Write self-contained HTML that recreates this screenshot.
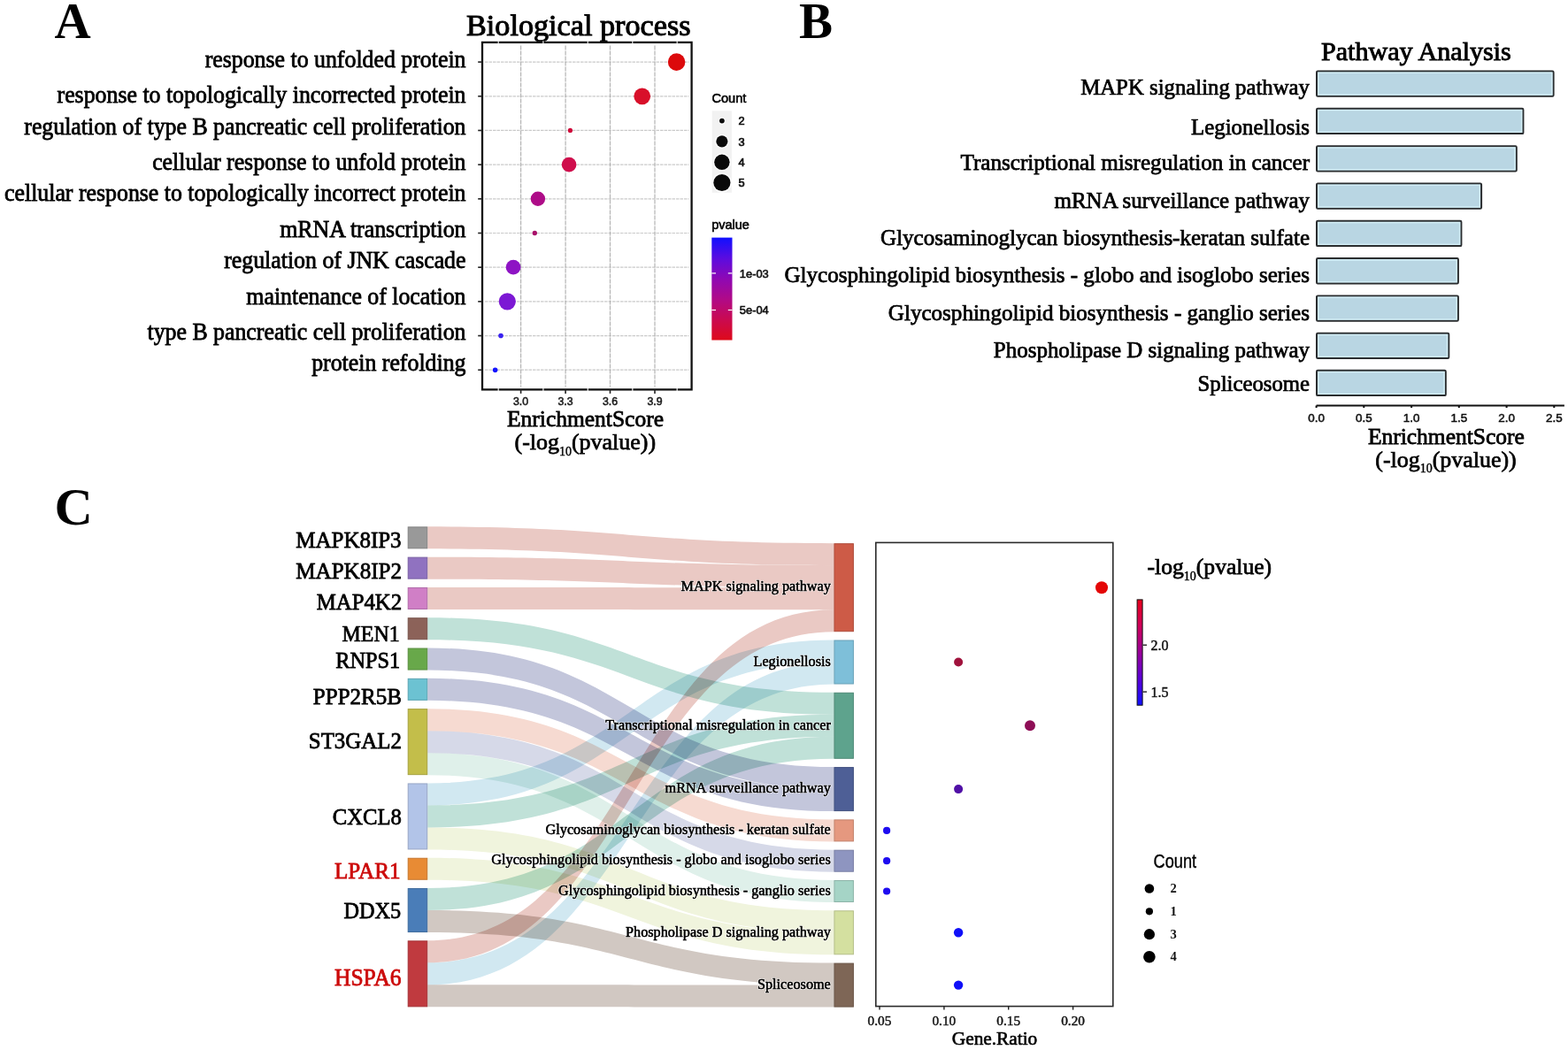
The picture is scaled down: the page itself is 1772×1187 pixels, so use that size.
<!DOCTYPE html>
<html><head><meta charset="utf-8"><title>Figure</title>
<style>html,body{margin:0;padding:0;background:#fff;} svg{display:block;} text{white-space:pre;} .fl path{mix-blend-mode:multiply;}</style>
</head><body>
<svg width="1772" height="1187" viewBox="0 0 1772 1187">
<rect width="1772" height="1187" fill="#fff"/>
<text x="61.50" y="43.00" font-size="57" text-anchor="start" font-family="'Liberation Serif', 'Times New Roman', serif" fill="#000" font-weight="bold" >A</text>
<text x="903.00" y="43.30" font-size="57" text-anchor="start" font-family="'Liberation Serif', 'Times New Roman', serif" fill="#000" font-weight="bold" >B</text>
<text x="61.60" y="592.80" font-size="60" text-anchor="start" font-family="'Liberation Serif', 'Times New Roman', serif" fill="#000" font-weight="bold" >C</text>
<text x="527.00" y="40.00" font-size="34.2" text-anchor="start" font-family="'Liberation Serif', 'Times New Roman', serif" fill="#000" font-weight="normal" stroke="#000" stroke-width="1.03" >Biological process</text>
<g stroke="#cacaca" stroke-width="1.2" stroke-dasharray="3.5 1"><line x1="548.0" y1="70.10" x2="778.6" y2="70.10"/><line x1="548.0" y1="108.78" x2="778.6" y2="108.78"/><line x1="548.0" y1="147.46" x2="778.6" y2="147.46"/><line x1="548.0" y1="186.14" x2="778.6" y2="186.14"/><line x1="548.0" y1="224.82" x2="778.6" y2="224.82"/><line x1="548.0" y1="263.50" x2="778.6" y2="263.50"/><line x1="548.0" y1="302.18" x2="778.6" y2="302.18"/><line x1="548.0" y1="340.86" x2="778.6" y2="340.86"/><line x1="548.0" y1="379.54" x2="778.6" y2="379.54"/><line x1="548.0" y1="418.22" x2="778.6" y2="418.22"/></g>
<g stroke="#b4b4b4" stroke-width="1.2" stroke-dasharray="5 1"><line x1="588.6" y1="51.4" x2="588.6" y2="437.4"/><line x1="639.1" y1="51.4" x2="639.1" y2="437.4"/><line x1="689.5" y1="51.4" x2="689.5" y2="437.4"/><line x1="740.0" y1="51.4" x2="740.0" y2="437.4"/></g>
<circle cx="764.6" cy="70.10" r="9.8" fill="#DC0A0C"/>
<circle cx="725.7" cy="108.78" r="9.4" fill="#D8102A"/>
<circle cx="644.4" cy="147.46" r="2.6" fill="#CF0A3A"/>
<circle cx="643.1" cy="186.14" r="8.3" fill="#CF0E4C"/>
<circle cx="607.9" cy="224.82" r="8.2" fill="#AE0C88"/>
<circle cx="604.3" cy="263.50" r="2.7" fill="#A8126A"/>
<circle cx="580.1" cy="302.18" r="8.4" fill="#8E14C4"/>
<circle cx="573.3" cy="340.86" r="9.6" fill="#7C18D4"/>
<circle cx="566.0" cy="379.54" r="2.8" fill="#3A22F0"/>
<circle cx="559.6" cy="418.22" r="2.8" fill="#1414FF"/>
<rect x="545.0" y="47.9" width="236.6" height="392.5" fill="none" stroke="#111" stroke-width="2.3"/>
<g stroke="#fff" stroke-width="1.3" stroke-opacity="0.85"><line x1="563.2" y1="46.3" x2="563.2" y2="49.5"/><line x1="563.2" y1="438.8" x2="563.2" y2="442.0"/><line x1="613.9" y1="46.3" x2="613.9" y2="49.5"/><line x1="613.9" y1="438.8" x2="613.9" y2="442.0"/><line x1="664.3" y1="46.3" x2="664.3" y2="49.5"/><line x1="664.3" y1="438.8" x2="664.3" y2="442.0"/><line x1="714.8" y1="46.3" x2="714.8" y2="49.5"/><line x1="714.8" y1="438.8" x2="714.8" y2="442.0"/><line x1="765.2" y1="46.3" x2="765.2" y2="49.5"/><line x1="765.2" y1="438.8" x2="765.2" y2="442.0"/></g>
<text transform="translate(526.50,76.30) scale(1,1.025)" font-size="25.85" text-anchor="end" font-family="'Liberation Serif', 'Times New Roman', serif" fill="#000" font-weight="normal" stroke="#000" stroke-width="0.78" >response to unfolded protein</text>
<text transform="translate(526.50,116.30) scale(1,1.025)" font-size="25.85" text-anchor="end" font-family="'Liberation Serif', 'Times New Roman', serif" fill="#000" font-weight="normal" stroke="#000" stroke-width="0.78" >response to topologically incorrected protein</text>
<text transform="translate(526.50,151.50) scale(1,1.025)" font-size="25.85" text-anchor="end" font-family="'Liberation Serif', 'Times New Roman', serif" fill="#000" font-weight="normal" stroke="#000" stroke-width="0.78" >regulation of type B pancreatic cell proliferation</text>
<text transform="translate(526.50,192.00) scale(1,1.025)" font-size="25.85" text-anchor="end" font-family="'Liberation Serif', 'Times New Roman', serif" fill="#000" font-weight="normal" stroke="#000" stroke-width="0.78" >cellular response to unfold protein</text>
<text transform="translate(526.50,227.20) scale(1,1.025)" font-size="25.85" text-anchor="end" font-family="'Liberation Serif', 'Times New Roman', serif" fill="#000" font-weight="normal" stroke="#000" stroke-width="0.78" >cellular response to topologically incorrect protein</text>
<text transform="translate(526.50,268.40) scale(1,1.025)" font-size="25.85" text-anchor="end" font-family="'Liberation Serif', 'Times New Roman', serif" fill="#000" font-weight="normal" stroke="#000" stroke-width="0.78" >mRNA transcription</text>
<text transform="translate(526.50,303.10) scale(1,1.025)" font-size="25.85" text-anchor="end" font-family="'Liberation Serif', 'Times New Roman', serif" fill="#000" font-weight="normal" stroke="#000" stroke-width="0.78" >regulation of JNK cascade</text>
<text transform="translate(526.50,343.60) scale(1,1.025)" font-size="25.85" text-anchor="end" font-family="'Liberation Serif', 'Times New Roman', serif" fill="#000" font-weight="normal" stroke="#000" stroke-width="0.78" >maintenance of location</text>
<text transform="translate(526.50,383.60) scale(1,1.025)" font-size="25.85" text-anchor="end" font-family="'Liberation Serif', 'Times New Roman', serif" fill="#000" font-weight="normal" stroke="#000" stroke-width="0.78" >type B pancreatic cell proliferation</text>
<text transform="translate(526.50,418.80) scale(1,1.025)" font-size="25.85" text-anchor="end" font-family="'Liberation Serif', 'Times New Roman', serif" fill="#000" font-weight="normal" stroke="#000" stroke-width="0.78" >protein refolding</text>
<g stroke="#222" stroke-width="1.6"><line x1="540.2" y1="70.10" x2="545.0" y2="70.10"/><line x1="540.2" y1="108.78" x2="545.0" y2="108.78"/><line x1="540.2" y1="147.46" x2="545.0" y2="147.46"/><line x1="540.2" y1="186.14" x2="545.0" y2="186.14"/><line x1="540.2" y1="224.82" x2="545.0" y2="224.82"/><line x1="540.2" y1="263.50" x2="545.0" y2="263.50"/><line x1="540.2" y1="302.18" x2="545.0" y2="302.18"/><line x1="540.2" y1="340.86" x2="545.0" y2="340.86"/><line x1="540.2" y1="379.54" x2="545.0" y2="379.54"/><line x1="540.2" y1="418.22" x2="545.0" y2="418.22"/><line x1="588.6" y1="440.4" x2="588.6" y2="444.9"/><line x1="639.1" y1="440.4" x2="639.1" y2="444.9"/><line x1="689.5" y1="440.4" x2="689.5" y2="444.9"/><line x1="740.0" y1="440.4" x2="740.0" y2="444.9"/></g>
<text x="588.60" y="457.60" font-size="12.3" text-anchor="middle" font-family="'Liberation Sans', Arial, sans-serif" fill="#1a1a1a" font-weight="normal" stroke="#1a1a1a" stroke-width="0.55" >3.0</text>
<text x="639.10" y="457.60" font-size="12.3" text-anchor="middle" font-family="'Liberation Sans', Arial, sans-serif" fill="#1a1a1a" font-weight="normal" stroke="#1a1a1a" stroke-width="0.55" >3.3</text>
<text x="689.50" y="457.60" font-size="12.3" text-anchor="middle" font-family="'Liberation Sans', Arial, sans-serif" fill="#1a1a1a" font-weight="normal" stroke="#1a1a1a" stroke-width="0.55" >3.6</text>
<text x="740.00" y="457.60" font-size="12.3" text-anchor="middle" font-family="'Liberation Sans', Arial, sans-serif" fill="#1a1a1a" font-weight="normal" stroke="#1a1a1a" stroke-width="0.55" >3.9</text>
<text x="661.50" y="482.40" font-size="25.5" text-anchor="middle" font-family="'Liberation Serif', 'Times New Roman', serif" fill="#000" font-weight="normal" stroke="#000" stroke-width="0.77" >EnrichmentScore</text>
<text x="661.3" y="508.3" font-size="25.95" text-anchor="middle" font-family="'Liberation Serif', 'Times New Roman', serif" stroke="#000" stroke-width="0.75">(-log<tspan font-size="14" dy="6.5" stroke-width="0.4">10</tspan><tspan dy="-6.5">(pvalue))</tspan></text>
<text x="804.40" y="116.30" font-size="14.6" text-anchor="start" font-family="'Liberation Sans', Arial, sans-serif" fill="#000" font-weight="normal" stroke="#000" stroke-width="0.6" >Count</text>
<rect x="804.7" y="125.3" width="22.2" height="92.5" fill="#f2f2f2"/>
<circle cx="815.9" cy="136.6" r="4.2" fill="#fff"/>
<circle cx="815.9" cy="136.6" r="2.9" fill="#0a0a0a"/>
<text x="834.60" y="141.30" font-size="12.8" text-anchor="start" font-family="'Liberation Sans', Arial, sans-serif" fill="#111" font-weight="normal" stroke="#111" stroke-width="0.7" >2</text>
<circle cx="815.9" cy="159.8" r="7.8999999999999995" fill="#fff"/>
<circle cx="815.9" cy="159.8" r="6.6" fill="#0a0a0a"/>
<text x="834.60" y="164.50" font-size="12.8" text-anchor="start" font-family="'Liberation Sans', Arial, sans-serif" fill="#111" font-weight="normal" stroke="#111" stroke-width="0.7" >3</text>
<circle cx="815.9" cy="183.3" r="10.0" fill="#fff"/>
<circle cx="815.9" cy="183.3" r="8.7" fill="#0a0a0a"/>
<text x="834.60" y="188.00" font-size="12.8" text-anchor="start" font-family="'Liberation Sans', Arial, sans-serif" fill="#111" font-weight="normal" stroke="#111" stroke-width="0.7" >4</text>
<circle cx="815.9" cy="206.5" r="10.9" fill="#fff"/>
<circle cx="815.9" cy="206.5" r="9.6" fill="#0a0a0a"/>
<text x="834.60" y="211.20" font-size="12.8" text-anchor="start" font-family="'Liberation Sans', Arial, sans-serif" fill="#111" font-weight="normal" stroke="#111" stroke-width="0.7" >5</text>
<text x="804.20" y="259.30" font-size="14.5" text-anchor="start" font-family="'Liberation Sans', Arial, sans-serif" fill="#000" font-weight="normal" stroke="#000" stroke-width="0.6" >pvalue</text>
<defs><linearGradient id="gA" x1="0" y1="0" x2="0" y2="1"><stop offset="0" stop-color="#1010FF"/><stop offset="0.2" stop-color="#5A0CE0"/><stop offset="0.4" stop-color="#8E08B4"/><stop offset="0.6" stop-color="#B00A88"/><stop offset="0.8" stop-color="#CA0A50"/><stop offset="1" stop-color="#DE0A1A"/></linearGradient></defs>
<rect x="804.3" y="268.6" width="23.2" height="115.9" fill="url(#gA)"/>
<g stroke="#fff" stroke-width="1.2"><line x1="804.3" y1="308.9" x2="809" y2="308.9"/><line x1="822.8" y1="308.9" x2="827.5" y2="308.9"/><line x1="804.3" y1="350.5" x2="809" y2="350.5"/><line x1="822.8" y1="350.5" x2="827.5" y2="350.5"/></g>
<text x="835.80" y="313.80" font-size="12.9" text-anchor="start" font-family="'Liberation Sans', Arial, sans-serif" fill="#111" font-weight="normal" stroke="#111" stroke-width="0.6" >1e-03</text>
<text x="835.80" y="355.10" font-size="12.9" text-anchor="start" font-family="'Liberation Sans', Arial, sans-serif" fill="#111" font-weight="normal" stroke="#111" stroke-width="0.6" >5e-04</text>
<text x="1493.00" y="68.00" font-size="30.1" text-anchor="start" font-family="'Liberation Serif', 'Times New Roman', serif" fill="#000" font-weight="normal" stroke="#000" stroke-width="0.9" >Pathway Analysis</text>
<rect x="1488.0" y="80.5" width="267.6" height="28.3" rx="1.2" fill="#B9D6E3" stroke="#2a2d2f" stroke-width="2"/>
<rect x="1489.8" y="82.3" width="264.0" height="24.7" fill="none" stroke="#D3EEF6" stroke-width="1.4"/>
<text x="1480.00" y="107.00" font-size="24.79" text-anchor="end" font-family="'Liberation Serif', 'Times New Roman', serif" fill="#000" font-weight="normal" stroke="#000" stroke-width="0.74" >MAPK signaling pathway</text>
<rect x="1488.0" y="122.8" width="233.4" height="28.3" rx="1.2" fill="#B9D6E3" stroke="#2a2d2f" stroke-width="2"/>
<rect x="1489.8" y="124.6" width="229.8" height="24.7" fill="none" stroke="#D3EEF6" stroke-width="1.4"/>
<text x="1480.00" y="152.00" font-size="24.86" text-anchor="end" font-family="'Liberation Serif', 'Times New Roman', serif" fill="#000" font-weight="normal" stroke="#000" stroke-width="0.75" >Legionellosis</text>
<rect x="1488.0" y="165.2" width="225.8" height="28.3" rx="1.2" fill="#B9D6E3" stroke="#2a2d2f" stroke-width="2"/>
<rect x="1489.8" y="167.0" width="222.2" height="24.7" fill="none" stroke="#D3EEF6" stroke-width="1.4"/>
<text x="1480.00" y="192.00" font-size="25.12" text-anchor="end" font-family="'Liberation Serif', 'Times New Roman', serif" fill="#000" font-weight="normal" stroke="#000" stroke-width="0.75" >Transcriptional misregulation in cancer</text>
<rect x="1488.0" y="207.5" width="186.1" height="28.3" rx="1.2" fill="#B9D6E3" stroke="#2a2d2f" stroke-width="2"/>
<rect x="1489.8" y="209.3" width="182.5" height="24.7" fill="none" stroke="#D3EEF6" stroke-width="1.4"/>
<text x="1480.00" y="234.50" font-size="24.98" text-anchor="end" font-family="'Liberation Serif', 'Times New Roman', serif" fill="#000" font-weight="normal" stroke="#000" stroke-width="0.75" >mRNA surveillance pathway</text>
<rect x="1488.0" y="249.8" width="163.4" height="28.3" rx="1.2" fill="#B9D6E3" stroke="#2a2d2f" stroke-width="2"/>
<rect x="1489.8" y="251.6" width="159.8" height="24.7" fill="none" stroke="#D3EEF6" stroke-width="1.4"/>
<text x="1480.00" y="277.00" font-size="25.02" text-anchor="end" font-family="'Liberation Serif', 'Times New Roman', serif" fill="#000" font-weight="normal" stroke="#000" stroke-width="0.75" >Glycosaminoglycan biosynthesis-keratan sulfate</text>
<rect x="1488.0" y="292.1" width="159.9" height="28.3" rx="1.2" fill="#B9D6E3" stroke="#2a2d2f" stroke-width="2"/>
<rect x="1489.8" y="293.9" width="156.3" height="24.7" fill="none" stroke="#D3EEF6" stroke-width="1.4"/>
<text x="1480.00" y="318.50" font-size="25.08" text-anchor="end" font-family="'Liberation Serif', 'Times New Roman', serif" fill="#000" font-weight="normal" stroke="#000" stroke-width="0.75" >Glycosphingolipid biosynthesis - globo and isoglobo series</text>
<rect x="1488.0" y="334.4" width="159.9" height="28.3" rx="1.2" fill="#B9D6E3" stroke="#2a2d2f" stroke-width="2"/>
<rect x="1489.8" y="336.2" width="156.3" height="24.7" fill="none" stroke="#D3EEF6" stroke-width="1.4"/>
<text x="1480.00" y="362.00" font-size="25.07" text-anchor="end" font-family="'Liberation Serif', 'Times New Roman', serif" fill="#000" font-weight="normal" stroke="#000" stroke-width="0.75" >Glycosphingolipid biosynthesis - ganglio series</text>
<rect x="1488.0" y="376.7" width="149.3" height="28.3" rx="1.2" fill="#B9D6E3" stroke="#2a2d2f" stroke-width="2"/>
<rect x="1489.8" y="378.5" width="145.7" height="24.7" fill="none" stroke="#D3EEF6" stroke-width="1.4"/>
<text x="1480.00" y="404.00" font-size="24.97" text-anchor="end" font-family="'Liberation Serif', 'Times New Roman', serif" fill="#000" font-weight="normal" stroke="#000" stroke-width="0.75" >Phospholipase D signaling pathway</text>
<rect x="1488.0" y="418.8" width="145.8" height="28.3" rx="1.2" fill="#B9D6E3" stroke="#2a2d2f" stroke-width="2"/>
<rect x="1489.8" y="420.6" width="142.2" height="24.7" fill="none" stroke="#D3EEF6" stroke-width="1.4"/>
<text x="1480.00" y="442.20" font-size="24.74" text-anchor="end" font-family="'Liberation Serif', 'Times New Roman', serif" fill="#000" font-weight="normal" stroke="#000" stroke-width="0.74" >Spliceosome</text>
<g stroke="#111" stroke-width="2"><line x1="1487.6" y1="458.5" x2="1767.9" y2="458.5"/>
<line x1="1487.6" y1="458.5" x2="1487.6" y2="461"/>
<line x1="1541.3" y1="458.5" x2="1541.3" y2="461"/>
<line x1="1595.1" y1="458.5" x2="1595.1" y2="461"/>
<line x1="1648.8" y1="458.5" x2="1648.8" y2="461"/>
<line x1="1702.6" y1="458.5" x2="1702.6" y2="461"/>
<line x1="1756.3" y1="458.5" x2="1756.3" y2="461"/>
</g>
<text x="1487.60" y="476.70" font-size="13.4" text-anchor="middle" font-family="'Liberation Sans', Arial, sans-serif" fill="#111" font-weight="normal" stroke="#111" stroke-width="0.55" >0.0</text>
<text x="1541.35" y="476.70" font-size="13.4" text-anchor="middle" font-family="'Liberation Sans', Arial, sans-serif" fill="#111" font-weight="normal" stroke="#111" stroke-width="0.55" >0.5</text>
<text x="1595.10" y="476.70" font-size="13.4" text-anchor="middle" font-family="'Liberation Sans', Arial, sans-serif" fill="#111" font-weight="normal" stroke="#111" stroke-width="0.55" >1.0</text>
<text x="1648.85" y="476.70" font-size="13.4" text-anchor="middle" font-family="'Liberation Sans', Arial, sans-serif" fill="#111" font-weight="normal" stroke="#111" stroke-width="0.55" >1.5</text>
<text x="1702.60" y="476.70" font-size="13.4" text-anchor="middle" font-family="'Liberation Sans', Arial, sans-serif" fill="#111" font-weight="normal" stroke="#111" stroke-width="0.55" >2.0</text>
<text x="1756.35" y="476.70" font-size="13.4" text-anchor="middle" font-family="'Liberation Sans', Arial, sans-serif" fill="#111" font-weight="normal" stroke="#111" stroke-width="0.55" >2.5</text>
<text x="1634.40" y="501.70" font-size="25.5" text-anchor="middle" font-family="'Liberation Serif', 'Times New Roman', serif" fill="#000" font-weight="normal" stroke="#000" stroke-width="0.77" >EnrichmentScore</text>
<text x="1634" y="527.9" font-size="25.95" text-anchor="middle" font-family="'Liberation Serif', 'Times New Roman', serif" stroke="#000" stroke-width="0.75">(-log<tspan font-size="14" dy="6.5" stroke-width="0.4">10</tspan><tspan dy="-6.5">(pvalue))</tspan></text>
<g class="fl" style="isolation:isolate"><path d="M483.2,595.35 C712.8,595.35 712.8,614.20 942.4,614.20 L942.4,639.20 C712.8,639.20 712.8,620.35 483.2,620.35 Z" fill="#eac9c4"/><path d="M483.2,629.65 C712.8,629.65 712.8,639.20 942.4,639.20 L942.4,664.20 C712.8,664.20 712.8,654.65 483.2,654.65 Z" fill="#eac9c4"/><path d="M483.2,663.95 C712.8,663.95 712.8,664.20 942.4,664.20 L942.4,689.20 C712.8,689.20 712.8,688.95 483.2,688.95 Z" fill="#eac9c4"/><path d="M483.2,698.25 C712.8,698.25 712.8,782.80 942.4,782.80 L942.4,807.80 C712.8,807.80 712.8,723.25 483.2,723.25 Z" fill="#c0e1d8"/><path d="M483.2,732.55 C712.8,732.55 712.8,867.10 942.4,867.10 L942.4,892.10 C712.8,892.10 712.8,757.55 483.2,757.55 Z" fill="#c3c6db"/><path d="M483.2,766.85 C712.8,766.85 712.8,892.10 942.4,892.10 L942.4,917.10 C712.8,917.10 712.8,791.85 483.2,791.85 Z" fill="#c3c6db"/><path d="M483.2,801.15 C712.8,801.15 712.8,926.40 942.4,926.40 L942.4,951.40 C712.8,951.40 712.8,826.15 483.2,826.15 Z" fill="#f6dad1"/><path d="M483.2,826.15 C712.8,826.15 712.8,960.70 942.4,960.70 L942.4,985.70 C712.8,985.70 712.8,851.15 483.2,851.15 Z" fill="#d6d9e8"/><path d="M483.2,851.15 C712.8,851.15 712.8,995.00 942.4,995.00 L942.4,1020.00 C712.8,1020.00 712.8,876.15 483.2,876.15 Z" fill="#dff0ea"/><path d="M483.2,885.45 C712.8,885.45 712.8,723.50 942.4,723.50 L942.4,748.50 C712.8,748.50 712.8,910.45 483.2,910.45 Z" fill="#d1e8f1"/><path d="M483.2,910.45 C712.8,910.45 712.8,807.80 942.4,807.80 L942.4,832.80 C712.8,832.80 712.8,935.45 483.2,935.45 Z" fill="#c0e1d8"/><path d="M483.2,935.45 C712.8,935.45 712.8,1029.30 942.4,1029.30 L942.4,1054.30 C712.8,1054.30 712.8,960.45 483.2,960.45 Z" fill="#f0f4dd"/><path d="M483.2,969.75 C712.8,969.75 712.8,1054.30 942.4,1054.30 L942.4,1079.30 C712.8,1079.30 712.8,994.75 483.2,994.75 Z" fill="#f0f4dd"/><path d="M483.2,1004.05 C712.8,1004.05 712.8,832.80 942.4,832.80 L942.4,857.80 C712.8,857.80 712.8,1029.05 483.2,1029.05 Z" fill="#c0e1d8"/><path d="M483.2,1029.05 C712.8,1029.05 712.8,1088.60 942.4,1088.60 L942.4,1113.60 C712.8,1113.60 712.8,1054.05 483.2,1054.05 Z" fill="#d1c8c2"/><path d="M483.2,1063.35 C712.8,1063.35 712.8,689.20 942.4,689.20 L942.4,714.20 C712.8,714.20 712.8,1088.35 483.2,1088.35 Z" fill="#eac9c4"/><path d="M483.2,1088.35 C712.8,1088.35 712.8,748.50 942.4,748.50 L942.4,773.50 C712.8,773.50 712.8,1113.35 483.2,1113.35 Z" fill="#d1e8f1"/><path d="M483.2,1113.35 C712.8,1113.35 712.8,1113.60 942.4,1113.60 L942.4,1138.60 C712.8,1138.60 712.8,1138.35 483.2,1138.35 Z" fill="#d1c8c2"/></g>
<rect x="461.2" y="595.85" width="21.5" height="24.00" fill="#999999" stroke="#828282" stroke-width="1"/>
<text transform="translate(453.60,618.70) scale(1,1.035)" font-size="24.98" text-anchor="end" font-family="'Liberation Serif', 'Times New Roman', serif" fill="#000" font-weight="normal" stroke="#000" stroke-width="0.75" >MAPK8IP3</text>
<rect x="461.2" y="630.15" width="21.5" height="24.00" fill="#9072C0" stroke="#7a60a3" stroke-width="1"/>
<text transform="translate(454.10,653.90) scale(1,1.035)" font-size="25.08" text-anchor="end" font-family="'Liberation Serif', 'Times New Roman', serif" fill="#000" font-weight="normal" stroke="#000" stroke-width="0.75" >MAPK8IP2</text>
<rect x="461.2" y="664.45" width="21.5" height="24.00" fill="#D07FC6" stroke="#b06ba8" stroke-width="1"/>
<text transform="translate(454.10,689.20) scale(1,1.035)" font-size="24.78" text-anchor="end" font-family="'Liberation Serif', 'Times New Roman', serif" fill="#000" font-weight="normal" stroke="#000" stroke-width="0.74" >MAP4K2</text>
<rect x="461.2" y="698.75" width="21.5" height="24.00" fill="#8C6259" stroke="#77534b" stroke-width="1"/>
<text transform="translate(451.60,724.75) scale(1,1.035)" font-size="23.9" text-anchor="end" font-family="'Liberation Serif', 'Times New Roman', serif" fill="#000" font-weight="normal" stroke="#000" stroke-width="0.72" >MEN1</text>
<rect x="461.2" y="733.05" width="21.5" height="24.00" fill="#68A84A" stroke="#588e3e" stroke-width="1"/>
<text transform="translate(452.10,754.90) scale(1,1.035)" font-size="24.3" text-anchor="end" font-family="'Liberation Serif', 'Times New Roman', serif" fill="#000" font-weight="normal" stroke="#000" stroke-width="0.73" >RNPS1</text>
<rect x="461.2" y="767.35" width="21.5" height="24.00" fill="#6CC2D2" stroke="#5ba4b2" stroke-width="1"/>
<text transform="translate(454.00,795.70) scale(1,1.035)" font-size="25.03" text-anchor="end" font-family="'Liberation Serif', 'Times New Roman', serif" fill="#000" font-weight="normal" stroke="#000" stroke-width="0.75" >PPP2R5B</text>
<rect x="461.2" y="801.65" width="21.5" height="74.00" fill="#C3BE4A" stroke="#a5a13e" stroke-width="1"/>
<text transform="translate(453.90,845.80) scale(1,1.035)" font-size="24.91" text-anchor="end" font-family="'Liberation Serif', 'Times New Roman', serif" fill="#000" font-weight="normal" stroke="#000" stroke-width="0.75" >ST3GAL2</text>
<rect x="461.2" y="885.95" width="21.5" height="74.00" fill="#B2C4E8" stroke="#97a6c5" stroke-width="1"/>
<text transform="translate(453.90,931.70) scale(1,1.035)" font-size="24.7" text-anchor="end" font-family="'Liberation Serif', 'Times New Roman', serif" fill="#000" font-weight="normal" stroke="#000" stroke-width="0.74" >CXCL8</text>
<rect x="461.2" y="970.25" width="21.5" height="24.00" fill="#E88B34" stroke="#c5762c" stroke-width="1"/>
<text transform="translate(452.50,992.70) scale(1,1.035)" font-size="25.14" text-anchor="end" font-family="'Liberation Serif', 'Times New Roman', serif" fill="#CC0A0A" font-weight="normal" stroke="#CC0A0A" stroke-width="0.75" >LPAR1</text>
<rect x="461.2" y="1004.55" width="21.5" height="49.00" fill="#4A7DB8" stroke="#3e6a9c" stroke-width="1"/>
<text transform="translate(453.20,1037.90) scale(1,1.035)" font-size="24.3" text-anchor="end" font-family="'Liberation Serif', 'Times New Roman', serif" fill="#000" font-weight="normal" stroke="#000" stroke-width="0.73" >DDX5</text>
<rect x="461.2" y="1063.85" width="21.5" height="74.00" fill="#C03A3F" stroke="#a33135" stroke-width="1"/>
<text transform="translate(453.60,1113.70) scale(1,1.035)" font-size="25.5" text-anchor="end" font-family="'Liberation Serif', 'Times New Roman', serif" fill="#CC0A0A" font-weight="normal" stroke="#CC0A0A" stroke-width="0.77" >HSPA6</text>
<rect x="942.9" y="614.70" width="21.5" height="99.00" fill="#CD5B47" stroke="#ae4d3c" stroke-width="1"/>
<text x="938.80" y="668.40" font-size="16.22" text-anchor="end" font-family="'Liberation Serif', 'Times New Roman', serif" fill="#000" font-weight="normal" stroke="#fff" stroke-width="2.2" stroke-opacity="0.55" stroke-linejoin="round">MAPK signaling pathway</text>
<text x="938.80" y="668.40" font-size="16.22" text-anchor="end" font-family="'Liberation Serif', 'Times New Roman', serif" fill="#000" font-weight="normal" stroke="#000" stroke-width="0.49" >MAPK signaling pathway</text>
<rect x="942.9" y="724.00" width="21.5" height="49.00" fill="#7EBFD9" stroke="#6ba2b8" stroke-width="1"/>
<text x="938.80" y="752.70" font-size="16.22" text-anchor="end" font-family="'Liberation Serif', 'Times New Roman', serif" fill="#000" font-weight="normal" stroke="#fff" stroke-width="2.2" stroke-opacity="0.55" stroke-linejoin="round">Legionellosis</text>
<text x="938.80" y="752.70" font-size="16.22" text-anchor="end" font-family="'Liberation Serif', 'Times New Roman', serif" fill="#000" font-weight="normal" stroke="#000" stroke-width="0.49" >Legionellosis</text>
<rect x="942.9" y="783.30" width="21.5" height="74.00" fill="#5EA38D" stroke="#4f8a77" stroke-width="1"/>
<text x="938.80" y="824.50" font-size="16.22" text-anchor="end" font-family="'Liberation Serif', 'Times New Roman', serif" fill="#000" font-weight="normal" stroke="#fff" stroke-width="2.2" stroke-opacity="0.55" stroke-linejoin="round">Transcriptional misregulation in cancer</text>
<text x="938.80" y="824.50" font-size="16.22" text-anchor="end" font-family="'Liberation Serif', 'Times New Roman', serif" fill="#000" font-weight="normal" stroke="#000" stroke-width="0.49" >Transcriptional misregulation in cancer</text>
<rect x="942.9" y="867.60" width="21.5" height="49.00" fill="#4E5F96" stroke="#42507f" stroke-width="1"/>
<text x="938.80" y="896.30" font-size="16.22" text-anchor="end" font-family="'Liberation Serif', 'Times New Roman', serif" fill="#000" font-weight="normal" stroke="#fff" stroke-width="2.2" stroke-opacity="0.55" stroke-linejoin="round">mRNA surveillance pathway</text>
<text x="938.80" y="896.30" font-size="16.22" text-anchor="end" font-family="'Liberation Serif', 'Times New Roman', serif" fill="#000" font-weight="normal" stroke="#000" stroke-width="0.49" >mRNA surveillance pathway</text>
<rect x="942.9" y="926.90" width="21.5" height="24.00" fill="#E5987F" stroke="#c2816b" stroke-width="1"/>
<text x="938.80" y="943.10" font-size="16.22" text-anchor="end" font-family="'Liberation Serif', 'Times New Roman', serif" fill="#000" font-weight="normal" stroke="#fff" stroke-width="2.2" stroke-opacity="0.55" stroke-linejoin="round">Glycosaminoglycan biosynthesis - keratan sulfate</text>
<text x="938.80" y="943.10" font-size="16.22" text-anchor="end" font-family="'Liberation Serif', 'Times New Roman', serif" fill="#000" font-weight="normal" stroke="#000" stroke-width="0.49" >Glycosaminoglycan biosynthesis - keratan sulfate</text>
<rect x="942.9" y="961.20" width="21.5" height="24.00" fill="#8E95C0" stroke="#787ea3" stroke-width="1"/>
<text x="938.80" y="977.40" font-size="16.22" text-anchor="end" font-family="'Liberation Serif', 'Times New Roman', serif" fill="#000" font-weight="normal" stroke="#fff" stroke-width="2.2" stroke-opacity="0.55" stroke-linejoin="round">Glycosphingolipid biosynthesis - globo and isoglobo series</text>
<text x="938.80" y="977.40" font-size="16.22" text-anchor="end" font-family="'Liberation Serif', 'Times New Roman', serif" fill="#000" font-weight="normal" stroke="#000" stroke-width="0.49" >Glycosphingolipid biosynthesis - globo and isoglobo series</text>
<rect x="942.9" y="995.50" width="21.5" height="24.00" fill="#A5D4C6" stroke="#8cb4a8" stroke-width="1"/>
<text x="938.80" y="1011.70" font-size="16.22" text-anchor="end" font-family="'Liberation Serif', 'Times New Roman', serif" fill="#000" font-weight="normal" stroke="#fff" stroke-width="2.2" stroke-opacity="0.55" stroke-linejoin="round">Glycosphingolipid biosynthesis - ganglio series</text>
<text x="938.80" y="1011.70" font-size="16.22" text-anchor="end" font-family="'Liberation Serif', 'Times New Roman', serif" fill="#000" font-weight="normal" stroke="#000" stroke-width="0.49" >Glycosphingolipid biosynthesis - ganglio series</text>
<rect x="942.9" y="1029.80" width="21.5" height="49.00" fill="#D4E0A0" stroke="#b4be88" stroke-width="1"/>
<text x="938.80" y="1058.50" font-size="16.22" text-anchor="end" font-family="'Liberation Serif', 'Times New Roman', serif" fill="#000" font-weight="normal" stroke="#fff" stroke-width="2.2" stroke-opacity="0.55" stroke-linejoin="round">Phospholipase D signaling pathway</text>
<text x="938.80" y="1058.50" font-size="16.22" text-anchor="end" font-family="'Liberation Serif', 'Times New Roman', serif" fill="#000" font-weight="normal" stroke="#000" stroke-width="0.49" >Phospholipase D signaling pathway</text>
<rect x="942.9" y="1089.10" width="21.5" height="49.00" fill="#7E6656" stroke="#6b5649" stroke-width="1"/>
<text x="938.80" y="1117.80" font-size="16.22" text-anchor="end" font-family="'Liberation Serif', 'Times New Roman', serif" fill="#000" font-weight="normal" stroke="#fff" stroke-width="2.2" stroke-opacity="0.55" stroke-linejoin="round">Spliceosome</text>
<text x="938.80" y="1117.80" font-size="16.22" text-anchor="end" font-family="'Liberation Serif', 'Times New Roman', serif" fill="#000" font-weight="normal" stroke="#000" stroke-width="0.49" >Spliceosome</text>
<circle cx="1245.0" cy="664.2" r="7.0" fill="#E40606"/>
<circle cx="1083.1" cy="748.5" r="5.0" fill="#A0123C"/>
<circle cx="1164.0" cy="820.3" r="6.0" fill="#8E0E56"/>
<circle cx="1083.1" cy="892.1" r="5.0" fill="#5010A6"/>
<circle cx="1002.1" cy="938.9" r="4.1" fill="#1E0CF0"/>
<circle cx="1002.1" cy="973.2" r="4.1" fill="#1E0CF0"/>
<circle cx="1002.1" cy="1007.5" r="4.1" fill="#1E0CF0"/>
<circle cx="1083.1" cy="1054.3" r="5.2" fill="#1010F8"/>
<circle cx="1083.1" cy="1113.6" r="5.2" fill="#1010F8"/>
<rect x="989.8" y="613.4" width="268.0" height="524.2" fill="none" stroke="#2a2a2a" stroke-width="1.6"/>
<text x="994.00" y="1158.80" font-size="15.3" text-anchor="middle" font-family="'Liberation Serif', 'Times New Roman', serif" fill="#111" font-weight="normal" stroke="#111" stroke-width="0.46" >0.05</text>
<text x="1066.87" y="1158.80" font-size="15.3" text-anchor="middle" font-family="'Liberation Serif', 'Times New Roman', serif" fill="#111" font-weight="normal" stroke="#111" stroke-width="0.46" >0.10</text>
<text x="1139.74" y="1158.80" font-size="15.3" text-anchor="middle" font-family="'Liberation Serif', 'Times New Roman', serif" fill="#111" font-weight="normal" stroke="#111" stroke-width="0.46" >0.15</text>
<text x="1212.61" y="1158.80" font-size="15.3" text-anchor="middle" font-family="'Liberation Serif', 'Times New Roman', serif" fill="#111" font-weight="normal" stroke="#111" stroke-width="0.46" >0.20</text>
<g stroke="#222" stroke-width="1.4"><line x1="994.0" y1="1137.6" x2="994.0" y2="1141.6"/><line x1="1066.9" y1="1137.6" x2="1066.9" y2="1141.6"/><line x1="1139.7" y1="1137.6" x2="1139.7" y2="1141.6"/><line x1="1212.6" y1="1137.6" x2="1212.6" y2="1141.6"/></g>
<text x="1124.00" y="1181.40" font-size="21.3" text-anchor="middle" font-family="'Liberation Serif', 'Times New Roman', serif" fill="#000" font-weight="normal" stroke="#000" stroke-width="0.64" >Gene.Ratio</text>
<text x="1296.6" y="648.6" font-size="25.6" font-family="'Liberation Serif', 'Times New Roman', serif" stroke="#000" stroke-width="0.75">-log<tspan font-size="14" dy="7.6" stroke-width="0.4">10</tspan><tspan dy="-7.6">(pvalue)</tspan></text>
<defs><linearGradient id="gC" x1="0" y1="0" x2="0" y2="1"><stop offset="0" stop-color="#E8001C"/><stop offset="0.25" stop-color="#D0005A"/><stop offset="0.5" stop-color="#9A009A"/><stop offset="0.75" stop-color="#5A00D8"/><stop offset="1" stop-color="#1010FF"/></linearGradient></defs>
<rect x="1285.1" y="677.9" width="6" height="119.3" fill="url(#gC)" stroke="#111" stroke-width="1"/>
<g stroke="#111" stroke-width="1.3"><line x1="1291.6" y1="729.2" x2="1296" y2="729.2"/><line x1="1291.6" y1="782.1" x2="1296" y2="782.1"/></g>
<text x="1300.50" y="734.90" font-size="16.0" text-anchor="start" font-family="'Liberation Serif', 'Times New Roman', serif" fill="#111" font-weight="normal" stroke="#111" stroke-width="0.48" >2.0</text>
<text x="1300.50" y="787.80" font-size="16.0" text-anchor="start" font-family="'Liberation Serif', 'Times New Roman', serif" fill="#111" font-weight="normal" stroke="#111" stroke-width="0.48" >1.5</text>
<text transform="translate(1303.60,981.30) scale(1,1.17)" font-size="18.2" text-anchor="start" font-family="'Liberation Sans', Arial, sans-serif" fill="#000" font-weight="normal" stroke="#000" stroke-width="0.3" >Count</text>
<circle cx="1298.9" cy="1004.5" r="5.3" fill="#000"/>
<text transform="translate(1322.60,1009.10) scale(1,1.06)" font-size="14.6" text-anchor="start" font-family="'Liberation Serif', 'Times New Roman', serif" fill="#111" font-weight="bold" >2</text>
<circle cx="1298.9" cy="1030.3" r="4.1" fill="#000"/>
<text transform="translate(1322.60,1034.90) scale(1,1.06)" font-size="14.6" text-anchor="start" font-family="'Liberation Serif', 'Times New Roman', serif" fill="#111" font-weight="bold" >1</text>
<circle cx="1298.9" cy="1056.2" r="6.1" fill="#000"/>
<text transform="translate(1322.60,1060.80) scale(1,1.06)" font-size="14.6" text-anchor="start" font-family="'Liberation Serif', 'Times New Roman', serif" fill="#111" font-weight="bold" >3</text>
<circle cx="1298.9" cy="1081.8" r="6.8" fill="#000"/>
<text transform="translate(1322.60,1086.40) scale(1,1.06)" font-size="14.6" text-anchor="start" font-family="'Liberation Serif', 'Times New Roman', serif" fill="#111" font-weight="bold" >4</text>
</svg>
</body></html>
